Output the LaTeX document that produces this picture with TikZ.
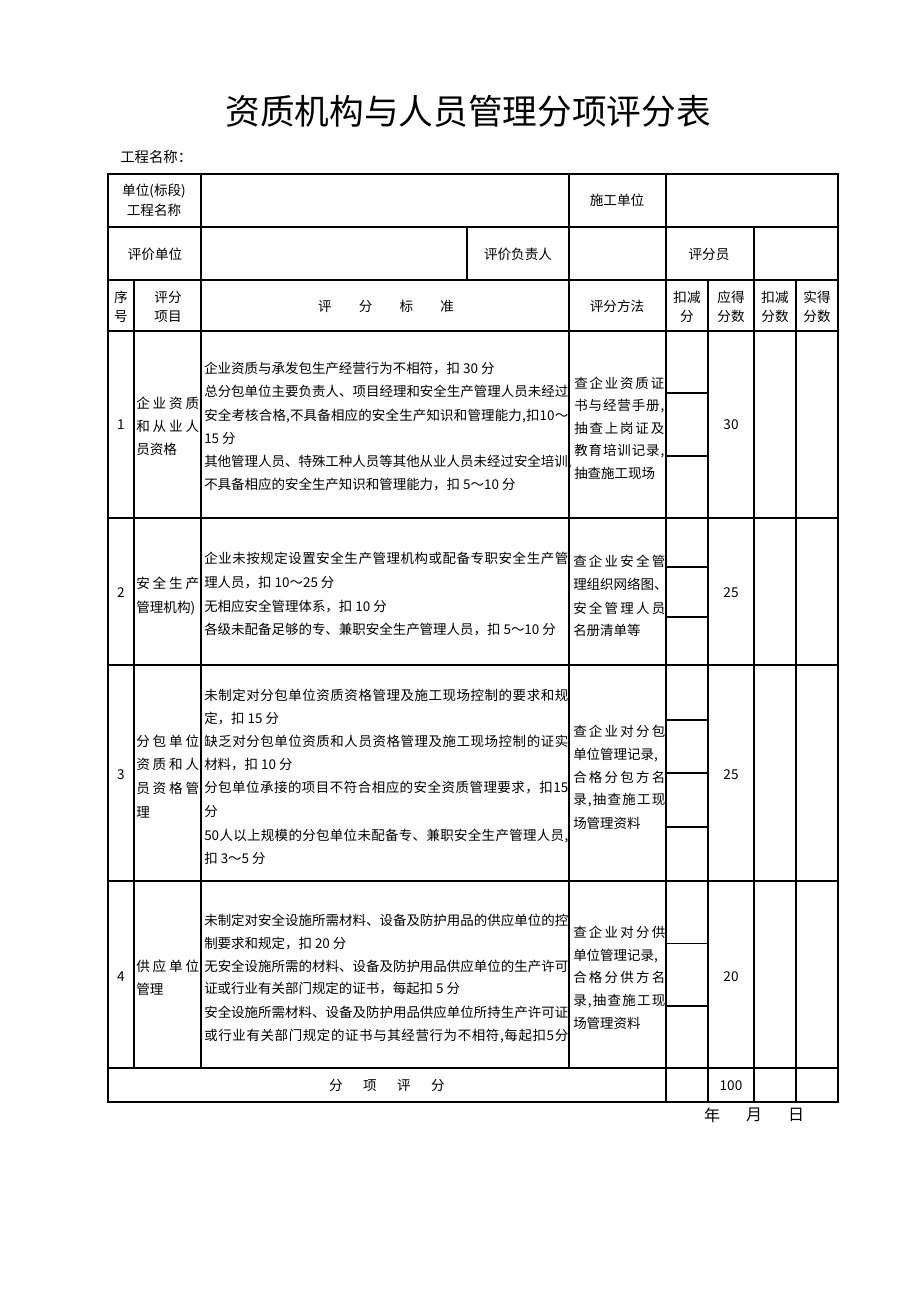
\documentclass[tikz,border=0pt]{standalone}
\usepackage{fontspec}
\newfontfamily\cjk{Noto Sans CJK SC}
\newdimen\pxu \pxu=0.75pt
\def\sprEnd{\relax}
\def\sprA#1{\def\sprTmp{#1}\ifx\sprTmp\sprEnd\else\hfil#1\expandafter\sprA\fi}
\newcommand\spr[1]{\hskip 0pt plus -1fil\sprA#1\relax}
\newcommand\jw[2]{\makebox[#1\pxu][s]{\spr{#2}}}
\begin{document}
\begin{tikzpicture}[x=0.75pt,y=-0.75pt,
  grid/.style={line width=0.8pt},
  frame/.style={line width=1.5pt},
  txt/.style={inner sep=0pt, font=\cjk\fontsize{10.2pt}{12pt}\selectfont, text height=8.9pt, text depth=1.2pt},
  lft/.style={txt, anchor=west},
  crit/.style={txt, anchor=west, font=\cjk\fontsize{10.1pt}{12pt}\selectfont},
  title/.style={inner sep=0pt, font=\cjk\fontsize{26pt}{30pt}\selectfont},
  date/.style={inner sep=0pt, font=\cjk\fontsize{12pt}{14pt}\selectfont}]
\useasboundingbox (0,0) rectangle (920,1302);
\fill[white] (0,0) rectangle (920,1302);

% ---------- grid ----------
\foreach \y in {227,280,331,518,665,881,1068} \draw[grid] (108,\y) -- (838,\y);
\draw[grid] (134,280) -- (134,1068);
\draw[grid] (201,174) -- (201,1068);
\draw[grid] (467,227) -- (467,280);
\draw[grid] (569,174) -- (569,1068);
\draw[grid] (666,174) -- (666,1102);
\draw[grid] (708,280) -- (708,1102);
\draw[grid] (754,227) -- (754,1102);
\draw[grid] (796,280) -- (796,1102);
\foreach \y in {393,456,567,617,720,773,827,943.5,1006} \draw[grid] (666,\y) -- (708,\y);
\draw[frame] (108,174) rectangle (838,1102);

% ---------- title ----------
\node[title] (title) at (468,111) {资质机构与人员管理分项评分表};
\node[lft, font=\cjk\fontsize{10.8pt}{13pt}\selectfont] (proj) at (120,157) {工程名称：};

% ---------- header rows ----------
\node[txt] (h1a) at (154,190) {单位(标段)};
\node[txt] (h1b) at (154,210) {工程名称};
\node[txt] (h1c) at (617,200) {施工单位};
\node[txt] (h2a) at (155,254) {评价单位};
\node[txt] (h2b) at (518,254) {评价负责人};
\node[txt] (h2c) at (709,254) {评分员};

\node[txt] (c1a) at (121,297) {序};
\node[txt] (c1b) at (121,316) {号};
\node[txt] (c2a) at (168,297) {评分};
\node[txt] (c2b) at (168,316) {项目};
\node[txt] (c3) at (386,306) {评\hspace{2em}分\hspace{2em}标\hspace{2em}准};
\node[txt] (c4) at (617,306) {评分方法};
\node[txt] (c5a) at (687,297) {扣减};
\node[txt] (c5b) at (687,316) {分};
\node[txt] (c6a) at (731,297) {应得};
\node[txt] (c6b) at (731,316) {分数};
\node[txt] (c7a) at (775,297) {扣减};
\node[txt] (c7b) at (775,316) {分数};
\node[txt] (c8a) at (817,297) {实得};
\node[txt] (c8b) at (817,316) {分数};

% ---------- row 1 ----------
\node[txt] (n1) at (121,424) {1};
\node[lft] (i1a) at (136,403) {\jw{63}{企业资质}};
\node[lft] (i1b) at (136,426) {\jw{63}{和从业人}};
\node[lft] (i1c) at (136,449) {员资格};
\node[crit] (k1a) at (204,368) {企业资质与承发包生产经营行为不相符，扣 30 分};
\node[crit] (k1b) at (204,391) {\jw{364}{总分包单位主要负责人、项目经理和安全生产管理人员未经过}};
\node[crit] (k1c) at (204,415) {\jw{364}{安全考核合格,不具备相应的安全生产知识和管理能力,扣{10}～}};
\node[crit] (k1d) at (204,438) {15 分};
\node[crit] (k1e) at (204,461) {\jw{364}{其他管理人员、特殊工种人员等其他从业人员未经过安全培训,}};
\node[crit] (k1f) at (204,484) {不具备相应的安全生产知识和管理能力，扣 5～10 分};
\node[crit] (m1a) at (574,383) {\jw{90}{查企业资质证}};
\node[crit] (m1b) at (574,405) {\jw{90}{书与经营手册,}};
\node[crit] (m1c) at (574,428) {\jw{90}{抽查上岗证及}};
\node[crit] (m1d) at (574,450) {\jw{90}{教育培训记录,}};
\node[crit] (m1e) at (574,473) {抽查施工现场};
\node[txt] (s1) at (731,424) {30};

% ---------- row 2 ----------
\node[txt] (n2) at (121,592) {2};
\node[lft] (i2a) at (136,583) {\jw{63}{安全生产}};
\node[lft] (i2b) at (136,607) {管理机构)};
\node[crit] (k2a) at (204,558) {\jw{364}{企业未按规定设置安全生产管理机构或配备专职安全生产管}};
\node[crit] (k2b) at (204,582) {理人员，扣 10～25 分};
\node[crit] (k2c) at (204,606) {无相应安全管理体系，扣 10 分};
\node[crit] (k2d) at (204,629) {各级未配备足够的专、兼职安全生产管理人员，扣 5～10 分};
\node[crit] (m2a) at (573,561) {\jw{92}{查企业安全管}};
\node[crit] (m2b) at (573,584) {\jw{92}{理组织网络图、}};
\node[crit] (m2c) at (573,608) {\jw{92}{安全管理人员}};
\node[crit] (m2d) at (573,630) {名册清单等};
\node[txt] (s2) at (731,592) {25};

% ---------- row 3 ----------
\node[txt] (n3) at (121,774) {3};
\node[lft] (i3a) at (136,741) {\jw{63}{分包单位}};
\node[lft] (i3b) at (136,764) {\jw{63}{资质和人}};
\node[lft] (i3c) at (136,788) {\jw{63}{员资格管}};
\node[lft] (i3d) at (136,812) {理};
\node[crit] (k3a) at (204,695) {\jw{364}{未制定对分包单位资质资格管理及施工现场控制的要求和规}};
\node[crit] (k3b) at (204,718) {定，扣 15 分};
\node[crit] (k3c) at (204,741) {\jw{364}{缺乏对分包单位资质和人员资格管理及施工现场控制的证实}};
\node[crit] (k3d) at (204,764) {材料，扣 10 分};
\node[crit] (k3e) at (204,787) {\jw{364}{分包单位承接的项目不符合相应的安全资质管理要求，扣{15}}};
\node[crit] (k3f) at (204,811) {分};
\node[crit] (k3g) at (204,835) {\jw{364}{{50}人以上规模的分包单位未配备专、兼职安全生产管理人员,}};
\node[crit] (k3h) at (204,858) {扣 3～5 分};
\node[crit] (m3a) at (573,731) {\jw{92}{查企业对分包}};
\node[crit] (m3b) at (573,754) {单位管理记录,};
\node[crit] (m3c) at (573,777) {\jw{92}{合格分包方名}};
\node[crit] (m3d) at (573,799) {\jw{92}{录,抽查施工现}};
\node[crit] (m3e) at (573,823) {场管理资料};
\node[txt] (s3) at (731,774) {25};

% ---------- row 4 ----------
\node[txt] (n4) at (121,976) {4};
\node[lft] (i4a) at (136,966) {\jw{63}{供应单位}};
\node[lft] (i4b) at (136,989) {管理};
\node[crit] (k4a) at (204,920) {\jw{364}{未制定对安全设施所需材料、设备及防护用品的供应单位的控}};
\node[crit] (k4b) at (204,943) {制要求和规定，扣 20 分};
\node[crit] (k4c) at (204,966) {\jw{364}{无安全设施所需的材料、设备及防护用品供应单位的生产许可}};
\node[crit] (k4d) at (204,988) {证或行业有关部门规定的证书，每起扣 5 分};
\node[crit] (k4e) at (204,1012) {\jw{364}{安全设施所需材料、设备及防护用品供应单位所持生产许可证}};
\node[crit] (k4f) at (204,1035) {\jw{364}{或行业有关部门规定的证书与其经营行为不相符,每起扣5分}};
\node[crit] (m4a) at (573,932) {\jw{92}{查企业对分供}};
\node[crit] (m4b) at (573,955) {单位管理记录,};
\node[crit] (m4c) at (573,977) {\jw{92}{合格分供方名}};
\node[crit] (m4d) at (573,1000) {\jw{92}{录,抽查施工现}};
\node[crit] (m4e) at (573,1023) {场管理资料};
\node[txt] (s4) at (731,976) {20};

% ---------- footer ----------
\node[txt] (tot) at (387,1085) {分\hspace{1.5em}项\hspace{1.5em}评\hspace{1.5em}分};
\node[txt] (tots) at (731,1085) {100};
\node[date] (yr) at (712,1115) {年};
\node[date] (mo) at (754,1115) {月};
\node[date] (dy) at (796,1115) {日};
\end{tikzpicture}
\end{document}
